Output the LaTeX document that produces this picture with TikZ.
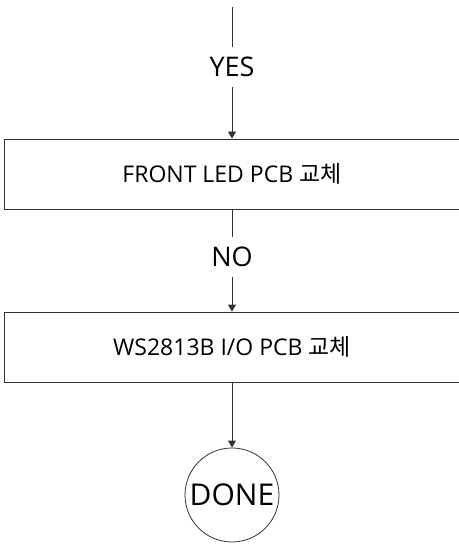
\documentclass[tikz,border=0pt]{standalone}
\usepackage{fontspec}
\setmainfont{Open Sans}
\newfontfamily\cjk{Noto Sans CJK KR}
\usetikzlibrary{arrows.meta,positioning}
\definecolor{ink}{HTML}{333333}

\begin{document}
\begin{tikzpicture}[x=1pt, y=1pt,
  box/.style={draw=ink, line width=0.9pt, minimum width=456pt, minimum height=70pt,
              inner sep=0pt, font=\fontsize{23}{26}\selectfont},
  lbl/.style={inner xsep=2pt, inner ysep=10pt, font=\fontsize{27}{30}\selectfont},
  ln/.style={draw=ink, line width=0.9pt},
  arr/.style={ln, -{Triangle[length=7pt,width=8pt]}}
]
\useasboundingbox (0,0) rectangle (458,-545);
\coordinate (start) at (232,-7);
\node[lbl] (yes) at (232,-67) {YES};
\node[box] (front) at (232,-174) {FRONT LED PCB {\cjk 교체}};
\node[lbl] (no) at (232,-257) {NO};
\node[box] (io) at (232,-347) {WS2813B I/O PCB {\cjk 교체}};
\node[circle, draw=ink, line width=0.8pt, minimum size=94pt, inner sep=0pt,
      font=\fontsize{30}{32}\selectfont] (done) at (232,-495) {DONE};
\draw[ln] (start) -- (yes);
\draw[arr] (yes) -- (front);
\draw[ln] (front) -- (no);
\draw[arr] (no) -- (io);
\draw[arr] (io) -- (done);
\end{tikzpicture}
\end{document}
